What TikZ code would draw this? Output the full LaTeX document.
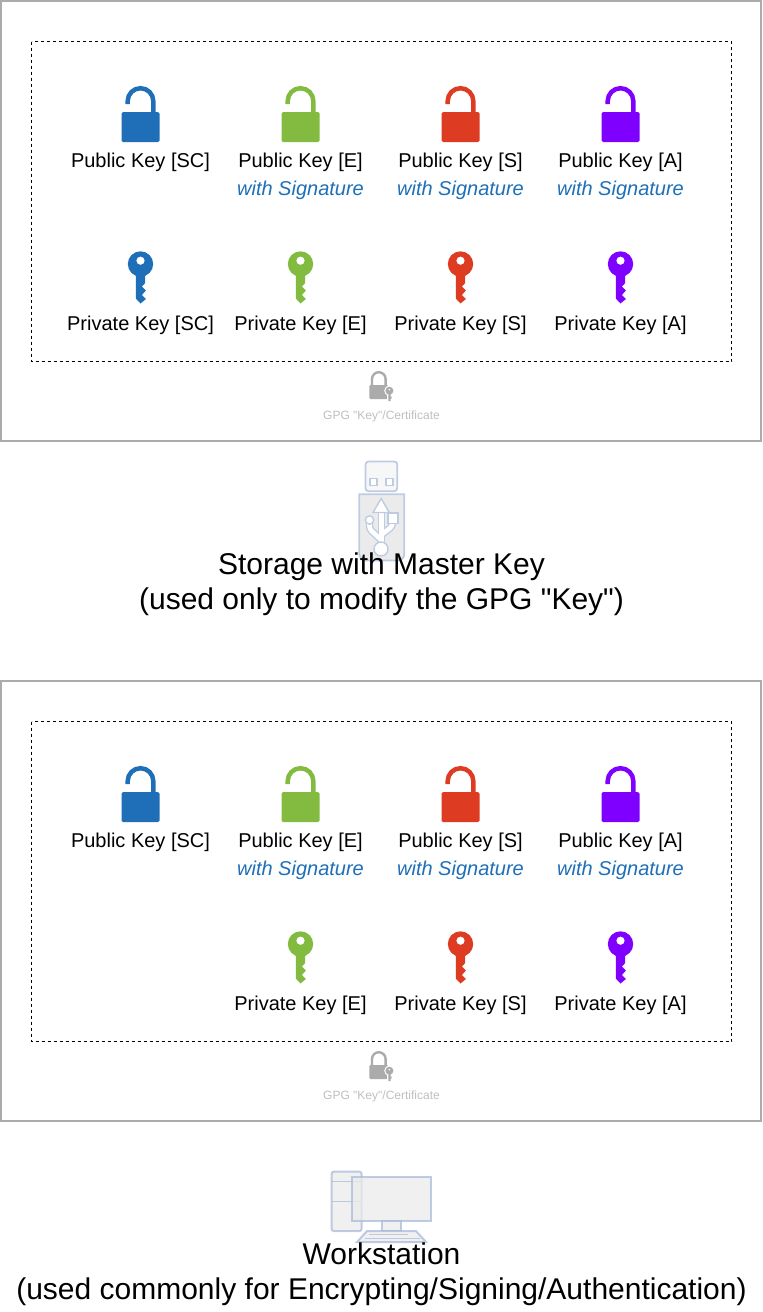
\documentclass[tikz,border=0pt]{standalone}
\usepackage{fontspec}
\setmainfont[Ligatures=TeXOff]{Liberation Sans}
\definecolor{cblue}{HTML}{1E6FB8}
\definecolor{cgreen}{HTML}{82BB40}
\definecolor{cred}{HTML}{DD3B22}
\definecolor{cpurple}{HTML}{7F00FF}
\definecolor{panelgrey}{HTML}{ABABAB}
\definecolor{iconline}{HTML}{BECCE3}
\definecolor{iconfill}{HTML}{EBEBEB}
\definecolor{wsline}{HTML}{A9BBD9}
\tikzset{
  x=1pt,y=-1pt,
  panel/.style={draw=panelgrey,line width=2pt,fill=white},
  dashbox/.style={draw=black,line width=0.8pt,dash pattern=on 3pt off 3pt},
  lbl/.style={font=\fontsize{20}{24}\selectfont,text=black,inner sep=0pt,anchor=center},
  sig/.style={font=\fontsize{20}{24}\selectfont\itshape,text=cblue,inner sep=0pt,anchor=center},
  certcap/.style={font=\fontsize{12}{14}\selectfont,text=black!25,inner sep=0pt,anchor=center},
  big/.style={font=\fontsize{30}{35}\selectfont,text=black,inner sep=0pt,anchor=center},
  pics/padlock/.style={code={
    \draw[#1,line width=4.5pt] (-12.8,18) -- (-12.8,15) arc[start angle=180,end angle=360,radius=12.8] -- (12.8,28);
    \fill[#1,rounded corners=1.5pt] (-19,26) rectangle (19,56);
  }},
  pics/keyicon/.style={code={
    \fill[#1,even odd rule] (0,0) circle[radius=12.7] (0,-3.3) circle[radius=4.2];
    \fill[#1] (-4.7,10) -- (-4.7,34.5) -- (0,39.5) -- (5.4,35) -- (1.4,31) -- (5.4,26.5) -- (1.4,22.5) -- (4.7,19) -- (4.7,10) -- cycle;
  }},
}
\newcommand{\keypanel}[2]{% y offset, show SC private key
  \begin{scope}[yshift=-#1pt]
  \draw[panel] (1,1) rectangle (761,441);
  \draw[dashbox] (31.5,41.5) rectangle (731.5,361.5);
  \pic at (140.5,86) {padlock=cblue};
  \pic at (300.5,86) {padlock=cgreen};
  \pic at (460.5,86) {padlock=cred};
  \pic at (620.5,86) {padlock=cpurple};
  \node[lbl] (pubsc#1) at (140.5,162) {Public Key [SC]};
  \node[lbl] (pube#1) at (300.5,162) {Public Key [E]};
  \node[lbl] (pubs#1) at (460.5,162) {Public Key [S]};
  \node[lbl] (puba#1) at (620.5,162) {Public Key [A]};
  \node[sig] (sige#1) at (300.5,190) {with Signature};
  \node[sig] (sigs#1) at (460.5,190) {with Signature};
  \node[sig] (siga#1) at (620.5,190) {with Signature};
  #2
  \pic at (300.5,264) {keyicon=cgreen};
  \pic at (460.5,264) {keyicon=cred};
  \pic at (620.5,264) {keyicon=cpurple};
  \node[lbl] (prie#1) at (300.5,325) {Private Key [E]};
  \node[lbl] (pris#1) at (460.5,325) {Private Key [S]};
  \node[lbl] (pria#1) at (620.5,325) {Private Key [A]};
  \end{scope}
}
\begin{document}
\begin{tikzpicture}
\useasboundingbox (0,0) rectangle (763,1312);
\keypanel{0}{\pic at (140.5,264) {keyicon=cblue};\node[lbl] (prisc) at (140.5,325) {Private Key [SC]};}
\keypanel{680}{}
% small certificate icons
\foreach \yo/\ln in {0/1,680/2}{
  \begin{scope}[yshift=-\yo pt]
  \draw[panelgrey,line width=2.4pt] (372,386) -- (372,379) arc[start angle=180,end angle=360,radius=6.8] -- (385.6,386);
  \fill[panelgrey,rounded corners=1pt] (369.3,385) rectangle (388,399);
  \fill[white] (389.4,390.7) circle[radius=5.2];
  \fill[white] (387,393) rectangle (392,401.5);
  \fill[panelgrey,even odd rule] (389.4,390.7) circle[radius=4] (389.4,389.6) circle[radius=1.2];
  \fill[panelgrey] (388.4,394) rectangle (390.6,401) (390.6,396.5) rectangle (391.6,398.5);
  \node[certcap] (cert\ln) at (381.5,416) {GPG "Key"/Certificate};
  \end{scope}
}
% USB stick
\draw[iconline,line width=1.8pt,fill=white!60!iconfill,rounded corners=3pt] (365.5,461.5) rectangle (397.3,491.2);
\draw[iconline,line width=1.8pt,fill=white] (370,478.5) rectangle (377,485.5);
\draw[iconline,line width=1.8pt,fill=white] (386,478.5) rectangle (393,485.5);
\draw[iconline,line width=1.8pt,fill=iconfill] (359.3,494.2) -- (404.3,494.2) -- (404.3,554) arc[start angle=0,end angle=90,radius=6.5] -- (365.8,560.5) arc[start angle=90,end angle=180,radius=6.5] -- cycle;
\foreach \c/\w in {iconline/7.4,white/4.6}{
  \draw[\c,line width=\w pt] (381.2,508) -- (381.2,545);
  \draw[\c,line width=\w pt,rounded corners=3pt] (369.5,521) -- (369.5,529) -- (381.2,540);
  \draw[\c,line width=\w pt,rounded corners=3pt] (392.5,520) -- (392.5,526) -- (381.2,535);
}
\filldraw[draw=iconline,line width=1.4pt,fill=white] (381.2,498.5) -- (389.3,512.5) -- (373,512.5) -- cycle;
\filldraw[draw=iconline,line width=1.4pt,fill=white] (369.5,520) circle[radius=4.2];
\filldraw[draw=iconline,line width=1.4pt,fill=white] (388,512.8) rectangle (398,523.3);
\filldraw[draw=iconline,line width=1.4pt,fill=white] (381,549) circle[radius=7];
\node[big,align=center,font=\fontsize{30}{35}\selectfont] (storage) at (381.5,584.5) {Storage with Master Key\\(used only to modify the GPG "Key")};
% workstation
\begin{scope}[opacity=0.75]
\draw[wsline,line width=2pt,fill=iconfill,rounded corners=2pt] (331.7,1171.7) rectangle (361.5,1231);
\draw[wsline,line width=1.8pt] (331.7,1181.5) -- (361.5,1181.5) (331.7,1201.5) -- (361.5,1201.5);
\draw[wsline,line width=2pt,fill=iconfill] (351.5,1176.7) rectangle (431.3,1221);
\draw[wsline,line width=2pt,fill=iconfill] (381.7,1221) rectangle (401.3,1231);
\draw[wsline,line width=2pt,fill=iconfill] (367,1231) -- (416,1231) -- (426,1242) -- (357,1242) -- cycle;
\draw[wsline,line width=1.8pt] (369,1234.5) -- (408,1234.5) (365,1238.5) -- (420,1238.5);
\end{scope}
\node[big,align=center,font=\fontsize{30}{35}\selectfont] (workstation) at (381.5,1274.5) {Workstation\\(used commonly for Encrypting/Signing/Authentication)};
\end{tikzpicture}
\end{document}
